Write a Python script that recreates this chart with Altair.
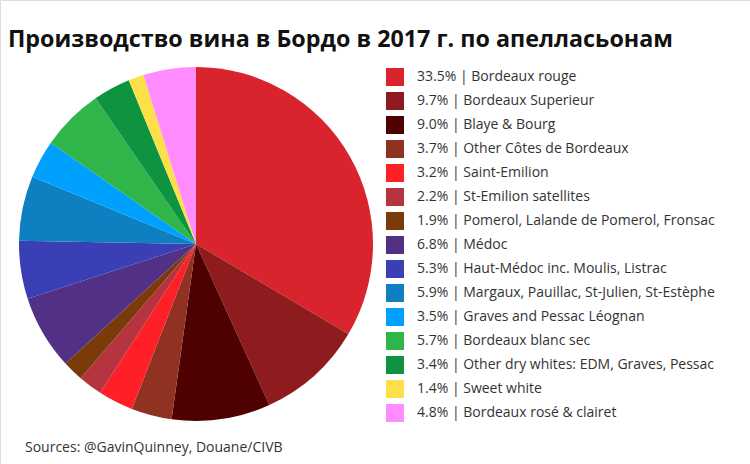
import altair as alt
import pandas as pd

names = ["Bordeaux rouge", "Bordeaux Superieur", "Blaye & Bourg", "Other Côtes de Bordeaux",
         "Saint-Emilion", "St-Emilion satellites", "Pomerol, Lalande de Pomerol, Fronsac",
         "Médoc", "Haut-Médoc inc. Moulis, Listrac", "Margaux, Pauillac, St-Julien, St-Estèphe",
         "Graves and Pessac Léognan", "Bordeaux blanc sec", "Other dry whites: EDM, Graves, Pessac",
         "Sweet white", "Bordeaux rosé & clairet"]
shares = [33.5, 9.7, 9.0, 3.7, 3.2, 2.2, 1.9, 6.8, 5.3, 5.9, 3.5, 5.7, 3.4, 1.4, 4.8]
colors = ["#D9232D", "#8E1B1E", "#4F0000", "#8F3221", "#FF1F26", "#B5343F", "#7B3A0A",
          "#523085", "#3A3FB5", "#0E7FC0", "#00A0FF", "#2FB54A", "#0E9440", "#FDE047", "#FF8CFF"]

labels = [f"{s:.1f}% | {n}" for s, n in zip(shares, names)]
df = pd.DataFrame({"label": labels, "share": shares, "idx": list(range(len(names)))})

FONT = "Open Sans"

pie = alt.Chart(df).mark_arc(radius=177, stroke=None).encode(
    theta=alt.Theta("share:Q", stack=True),
    order=alt.Order("idx:Q"),
    color=alt.Color("label:N", sort=labels,
                    scale=alt.Scale(domain=labels, range=colors),
                    legend=alt.Legend(title=None, orient="none", legendX=386, legendY=68,
                                      symbolType="square", symbolSize=324, symbolStrokeWidth=0,
                                      labelFontSize=14, labelFont=FONT, labelColor="#333333",
                                      labelOffset=13, rowPadding=6, padding=0,
                                      labelLimit=400, symbolOpacity=1)),
    x=alt.value(196), y=alt.value(244),
)

src = alt.Chart(pd.DataFrame({"t": ["Sources: @GavinQuinney, Douane/CIVB"]})).mark_text(
    align="left", baseline="alphabetic", fontSize=14, font=FONT, color="#333333"
).encode(text="t:N", x=alt.value(25), y=alt.value(452))

chart = alt.layer(pie, src).properties(
    width=750, height=464, padding=0, autosize=alt.AutoSizeParams(type="none"),
    title=alt.TitleParams("Производство вина в Бордо в 2017 г. по апелласьонам",
                          anchor="start", frame="bounds", fontSize=23.3, font="Open Sans",
                          fontWeight="bold", color="#111111", dx=8, dy=70, offset=0,
                          baseline="alphabetic", orient="top")
).configure_view(stroke=None).configure(background="white")

chart.save("out.html", embed_options={"renderer": "svg", "actions": False})
